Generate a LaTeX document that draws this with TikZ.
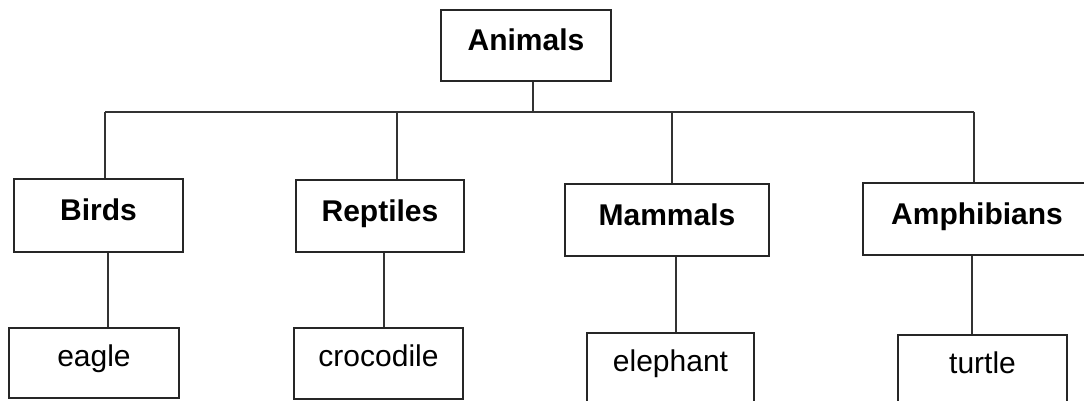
\documentclass[tikz,border=0pt]{standalone}
\usepackage{fontspec}
\setmainfont{Liberation Sans}
\begin{document}
\begin{tikzpicture}[x=1pt,y=-1pt,
  box/.style={draw=black!85, line width=1.6pt, inner sep=0pt, fill=none},
  cat/.style={box, font=\fontsize{30}{36}\selectfont\bfseries, text height=22pt, text depth=12pt},
  item/.style={box, font=\fontsize{30}{36}\selectfont, text height=22pt, text depth=16pt},
  conn/.style={draw=black!80, line width=1.5pt}]
\path[use as bounding box] (0,0) rectangle (1084,401);
\clip (0,0) rectangle (1084,401);
\fill[white] (0,0) rectangle (1084,401);

\node[cat, minimum width=170pt, minimum height=71pt] (animals) at (526,45.5) {Animals};

\node[cat, minimum width=169pt, minimum height=73pt] (birds) at (98.5,215.5) {Birds};
\node[cat, minimum width=168pt, minimum height=72pt] (reptiles) at (380,216) {Reptiles};
\node[cat, minimum width=204pt, minimum height=72pt] (mammals) at (667,220) {Mammals};
\node[cat, minimum width=228pt, minimum height=72pt] (amphibians) at (977,219) {Amphibians};

\node[item, minimum width=170pt, minimum height=70pt] (eagle) at (94,363) {eagle};
\node[item, minimum width=169pt, minimum height=71pt] (crocodile) at (378.5,363.5) {crocodile};
\node[item, minimum width=167pt, minimum height=70pt] (elephant) at (670.5,368) {elephant};
\node[item, minimum width=169pt, minimum height=70pt] (turtle) at (982.5,370) {turtle};

\coordinate (busL) at (105,112);
\coordinate (busR) at (974,112);
\draw[conn] (busL) -- (busR);
\draw[conn] ([xshift=7]animals.south) -- ([xshift=7]animals.south |- busL);

\draw[conn] (busL) -- (busL |- birds.north);
\draw[conn] ([xshift=17]reptiles.north) -- ([xshift=17]reptiles.north |- busL);
\draw[conn] ([xshift=5]mammals.north) -- ([xshift=5]mammals.north |- busL);
\draw[conn] (busR) -- (busR |- amphibians.north);

\draw[conn] ([xshift=9.5]birds.south) -- ([xshift=9.5]birds.south |- eagle.north);
\draw[conn] ([xshift=4]reptiles.south) -- ([xshift=4]reptiles.south |- crocodile.north);
\draw[conn] ([xshift=9]mammals.south) -- ([xshift=9]mammals.south |- elephant.north);
\draw[conn] ([xshift=-5]amphibians.south) -- ([xshift=-5]amphibians.south |- turtle.north);
\end{tikzpicture}
\end{document}
